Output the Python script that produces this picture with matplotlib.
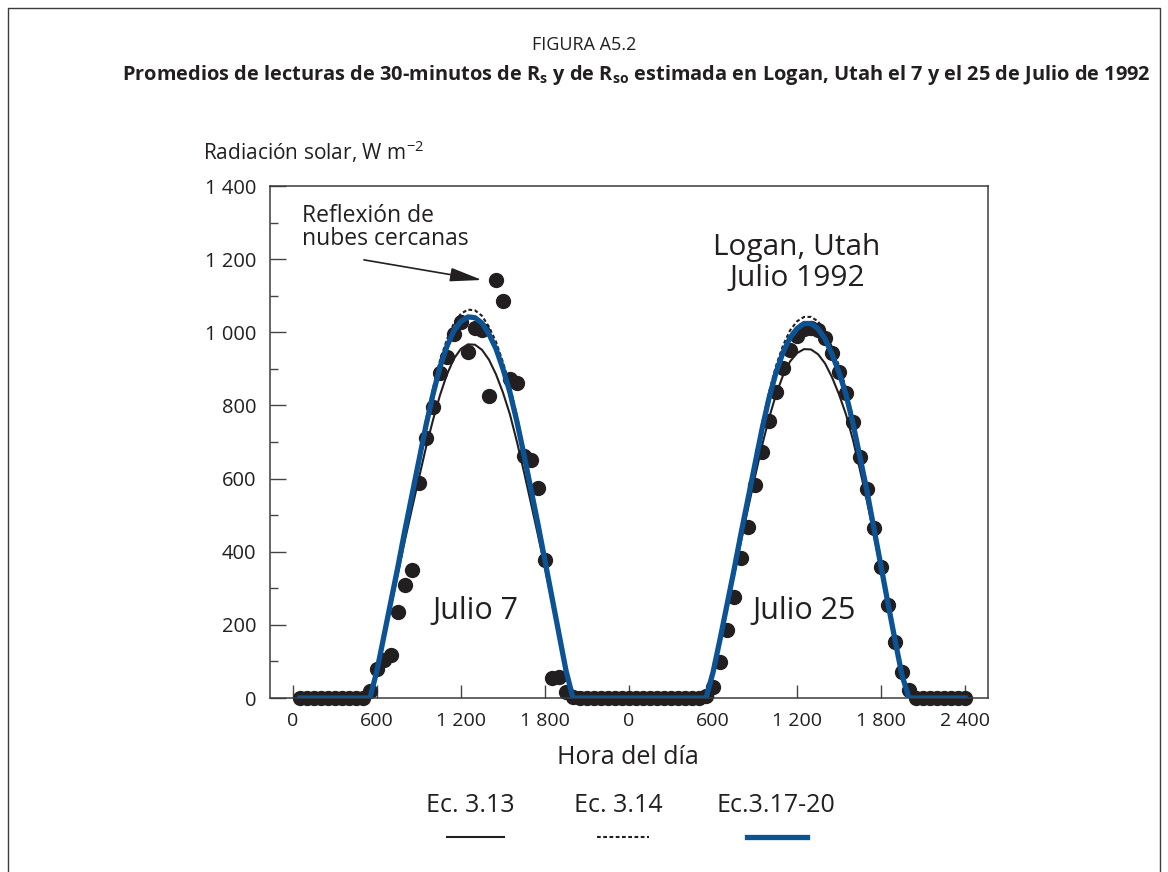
import numpy as np
import matplotlib
matplotlib.use("Agg")
import matplotlib.pyplot as plt
from matplotlib import font_manager
from matplotlib.lines import Line2D

# half-hour readings (hours*100), one day = 2400 units
hours = np.arange(50, 2401, 50)
# daylight part 550..2000, zero elsewhere
rs_jul7 = [20, 80, 105, 118, 235, 309, 350, 588, 711, 796,
           889, 933, 995, 1028, 946, 1012, 1006, 825, 1144, 1085,
           872, 861, 662, 650, 573, 377, 55, 57, 16, 3]
rs_jul25 = [5, 30, 98, 186, 276, 383, 468, 582, 673, 757,
            837, 902, 951, 990, 1008, 1012, 1005, 984, 943, 891,
            834, 755, 659, 571, 465, 358, 254, 153, 71, 22]

ec313_jul7 = [0, 72, 163, 252, 340, 432, 518, 602, 685, 760,
              828, 885, 928, 955, 967, 966, 952, 925, 885, 835,
              775, 700, 618, 532, 445, 355, 262, 168, 72, 0]
ec314_jul7 = [0, 76, 173, 270, 367, 469, 566, 663, 760, 847,
              923, 981, 1025, 1051, 1062, 1060, 1045, 1015, 974, 918,
              852, 770, 678, 581, 485, 383, 280, 178, 76, 0]
ec317_jul7 = [0, 75, 170, 265, 360, 460, 555, 650, 745, 830,
              905, 962, 1005, 1030, 1042, 1040, 1025, 995, 955, 900,
              835, 755, 665, 570, 475, 375, 275, 175, 75, 0]

ec313_jul25 = [0, 68, 155, 245, 335, 428, 518, 605, 690, 765,
               830, 882, 920, 943, 954, 953, 940, 915, 877, 830,
               775, 705, 623, 537, 443, 347, 250, 153, 60, 0]
ec314_jul25 = [0, 72, 163, 260, 357, 459, 556, 653, 750, 836,
               908, 964, 1005, 1030, 1042, 1042, 1030, 1002, 959, 908,
               847, 765, 671, 576, 471, 367, 263, 161, 63, 0]
ec317_jul25 = [0, 70, 160, 255, 350, 450, 545, 640, 735, 820,
               890, 945, 985, 1010, 1024, 1024, 1010, 982, 940, 890,
               830, 750, 658, 565, 462, 360, 258, 158, 62, 0]

xticks = [0, 600, 1200, 1800, 2400, 3000, 3600, 4200, 4800]
xticklabels = ["0", "600", "1 200", "1 800", "0", "600", "1 200", "1 800", "2 400"]
yticks = [0, 200, 400, 600, 800, 1000, 1200, 1400]
yticklabels = ["0", "200", "400", "600", "800", "1 000", "1 200", "1 400"]


def full_day(vals):
    out = np.zeros(len(hours))
    out[10:40] = vals
    return out


x_all = np.concatenate([hours, hours + 2400])
rs = np.concatenate([full_day(rs_jul7), full_day(rs_jul25)])
ec313 = np.concatenate([full_day(ec313_jul7), full_day(ec313_jul25)])
ec314 = np.concatenate([full_day(ec314_jul7), full_day(ec314_jul25)])
ec317 = np.concatenate([full_day(ec317_jul7), full_day(ec317_jul25)])

names = {f.name for f in font_manager.fontManager.ttflist}
title_font = "Liberation Sans Narrow" if "Liberation Sans Narrow" in names else "Open Sans"
plt.rcParams["font.family"] = ["Open Sans", "DejaVu Sans"]
plt.rcParams["mathtext.fontset"] = "custom"
plt.rcParams["mathtext.rm"] = title_font
plt.rcParams["mathtext.bf"] = title_font + ":bold"

txt = "#231f20"
blue = "#0b5394"
dots = (0, (1.8, 1.2))

fig = plt.figure(figsize=(11.68, 8.72), dpi=100)
ax = fig.add_axes([270 / 1168, 1 - 698 / 872, 718 / 1168, 512 / 872])

ax.plot(x_all, rs, "o", color=txt, ms=10, zorder=2, clip_on=False)
ax.plot(x_all, ec313, color=txt, lw=1.5, zorder=3)
ax.plot(x_all, ec314, color=txt, lw=1.5, ls=dots, zorder=3)
ax.plot(x_all, ec317, color=blue, lw=3.8, zorder=4)

ax.set_xlim(-164, 4964)
ax.set_ylim(0, 1400)
ax.set_xticks(xticks)
ax.set_xticklabels(xticklabels)
ax.set_yticks(yticks)
ax.set_yticklabels(yticklabels)
ax.set_yticks(np.arange(100, 1400, 200), minor=True)
ax.tick_params(axis="x", direction="in", length=9.5, width=1, color="#444444",
               labelsize=14, labelcolor=txt, pad=10)
ax.tick_params(axis="y", which="major", direction="in", length=11.5, width=1,
               color="#444444", labelsize=14.5, labelcolor=txt, pad=10)
ax.tick_params(axis="y", which="minor", direction="in", length=5.8, width=1, color="#444444")
for s in ax.spines.values():
    s.set_color("#3c3c3c")
    s.set_linewidth(1.1)

ax.text(64, 1350, "Reflexión de\nnubes cercanas", fontsize=16.5, color=txt,
        ha="left", va="top", linespacing=0.95)
ax.annotate("", xy=(1350, 1143), xytext=(507, 1198),
            arrowprops=dict(arrowstyle="-|>,head_length=1.4,head_width=0.3",
                            color=txt, lw=1.2, mutation_scale=14, shrinkA=0, shrinkB=0))
ax.text(3600, 1189, "Logan, Utah\nJulio 1992", fontsize=21.5, color=txt,
        ha="center", va="center", linespacing=1.1)
ax.text(1300, 238, "Julio 7", fontsize=22, color=txt, ha="center", va="center")
ax.text(3650, 238, "Julio 25", fontsize=22, color=txt, ha="center", va="center")

fig.text(628 / 1168, 1 - 758 / 872, "Hora del día", fontsize=18, color=txt,
         ha="center", va="center")
fig.text(203 / 1168, 1 - 152 / 872, "Radiación solar, W m$^{\\mathregular{-2}}$",
         fontsize=15, color=txt, ha="left", va="center")

fig.text(584 / 1168, 1 - 45 / 872, "FIGURA A5.2", fontsize=13, color=txt,
         ha="center", va="center", family=title_font)
fig.text(636 / 1168, 1 - 75 / 872,
         "Promedios de lecturas de 30-minutos de R$_\\mathbf{s}$ y de R$_\\mathbf{so}$ "
         "estimada en Logan, Utah el 7 y el 25 de Julio de 1992",
         fontsize=14.4, color=txt, ha="center", va="center", family=title_font,
         fontweight="bold")

# legend drawn below the axis
leg_labels = ["Ec. 3.13", "Ec. 3.14", "Ec.3.17-20"]
leg_x = [470, 618, 776]
leg_lines = [(447, 504, dict(color=txt, lw=1.5)),
             (597, 649, dict(color=txt, lw=1.5, ls=dots)),
             (747, 807, dict(color=blue, lw=3.8))]
for lab, lx, (x0, x1, kw) in zip(leg_labels, leg_x, leg_lines):
    fig.text(lx / 1168, 1 - 805 / 872, lab, fontsize=18, color=txt,
             ha="center", va="center")
    fig.add_artist(Line2D([x0 / 1168, x1 / 1168], [1 - 837 / 872] * 2, **kw))

# frame around the figure
fx = [8 / 1168, 8 / 1168, 1160 / 1168, 1160 / 1168]
fy = [0, 1 - 8 / 872, 1 - 8 / 872, 0]
fig.add_artist(Line2D(fx, fy, color="#3c3c3c", lw=1.0))

fig.savefig("out.png", dpi=100)
